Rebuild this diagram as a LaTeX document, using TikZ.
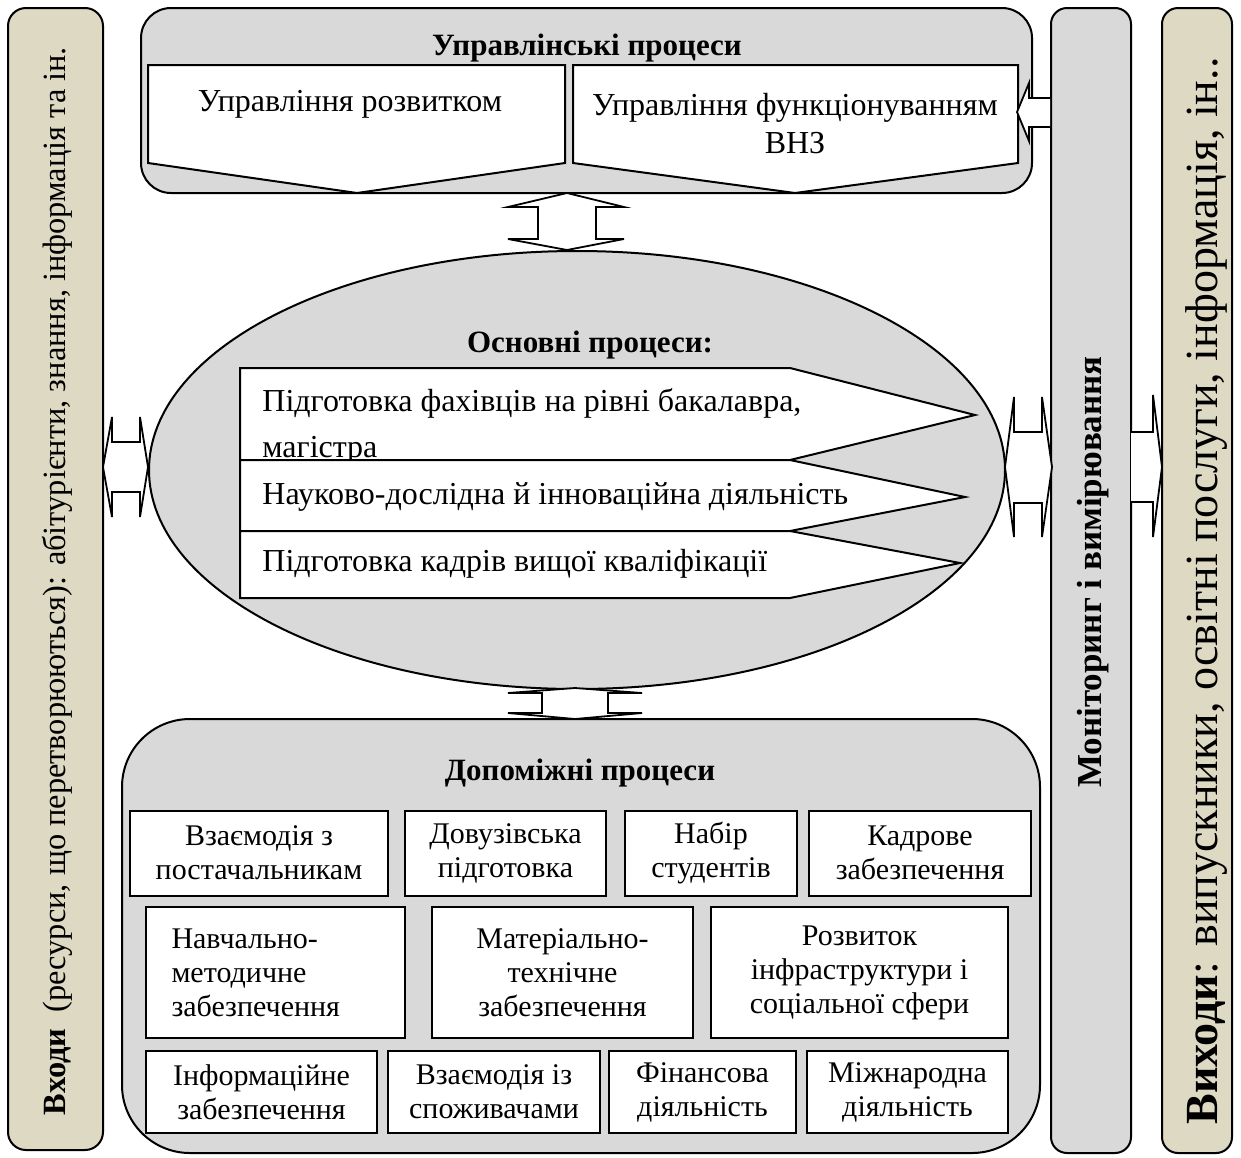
\documentclass[tikz,border=0pt]{standalone}
\usepackage{fontspec}
\setmainfont{Liberation Serif}
\definecolor{panelgray}{HTML}{D9D9D9}
\definecolor{panelbeige}{HTML}{DDD9C3}
\begin{document}
\begin{tikzpicture}[x=0.5pt,y=-0.5pt,
  outl/.style={draw=black,line width=1pt},
  hollow/.style={draw=black,line width=0.9pt,fill=white,line join=miter},
  headfont/.style={font=\fontsize{15.5}{18}\selectfont\bfseries},
  bodyfont/.style={font=\fontsize{16}{19}\selectfont},
  linetext/.style={bodyfont,anchor=base west,inner sep=0pt},
  subbox/.style={draw=black,line width=1pt,fill=white,inner sep=0pt,align=center,
    font=\fontsize{15}{17}\selectfont},
]
\fill[white] (0,0) rectangle (1241,1157);
\useasboundingbox (0,0) rectangle (1241,1157);

% ---- side panels ----
\draw[outl,fill=panelbeige,rounded corners=9pt] (8,8) rectangle (103,1150);
\node[rotate=90,font=\fontsize{16.2}{18}\selectfont] (inputs) at (57,581)
  {\textbf{Входи}\ \ (ресурси, що перетворюються): абітурієнти, знання, інформація та ін.};

\draw[outl,fill=panelgray,rounded corners=8pt] (1051,8) rectangle (1131,1153);
\node[rotate=90,font=\fontsize{17.5}{20}\selectfont\bfseries] (monitor) at (1093,572) {Моніторинг і вимірювання};

\draw[outl,fill=panelbeige,rounded corners=8pt] (1162,8) rectangle (1232,1153);
\node[rotate=90,font=\fontsize{23}{26}\selectfont] (outputs) at (1206,591)
  {\textbf{Виходи}: випускники, освітні послуги, інформація, ін..};

% ---- management processes ----
\draw[outl,fill=panelgray,rounded corners=15pt] (141,8) rectangle (1032,193);
\node[headfont] (mgmt) at (587,48) {Управлінські процеси};
\draw[outl,fill=white] (148,65) -- (565,65) -- (565,163) -- (357,193) -- (148,163) -- cycle;
\node[bodyfont] (devel) at (350,104) {Управління розвитком};
\draw[outl,fill=white] (573,65) -- (1018,65) -- (1018,163) -- (795,193) -- (573,163) -- cycle;
\node[bodyfont,align=center] (oper) at (795,124) {Управління функціонуванням\\ВНЗ};

% feedback from monitoring into management
\draw[hollow] (1050,98) -- (1029,98) -- (1029,83) -- (1017,112) -- (1029,141) -- (1029,127) -- (1050,127);

% ---- core processes ----
\draw[outl,fill=panelgray] (577,470) ellipse [x radius=214pt, y radius=109.5pt];
\node[headfont] (core) at (590,345) {Основні процеси:};

\draw[outl,fill=white] (240,368) -- (790,368) -- (975,415) -- (790,460) -- (240,460) -- cycle;
\node[linetext] (c1a) at (262,411) {Підготовка фахівців на рівні бакалавра,};
\node[linetext] (c1b) at (262,457) {магістра};
\draw[outl,fill=white] (240,460) -- (790,460) -- (965,497) -- (790,531) -- (240,531) -- cycle;
\node[linetext] (c2) at (262,504) {Науково-дослідна й інноваційна діяльність};
\draw[outl,fill=white] (240,531) -- (790,531) -- (960,563) -- (790,598) -- (240,598) -- cycle;
\node[linetext] (c3) at (262,571) {Підготовка кадрів вищої кваліфікації};

% ---- two-way links ----
\draw[hollow] (567,193) -- (624,207) -- (596,207) -- (596,239) -- (624,239) -- (567,250)
  -- (508,239) -- (538,239) -- (538,207) -- (508,207) -- cycle;
\draw[hollow] (575,688) -- (642,693) -- (608,693) -- (608,713) -- (642,713) -- (575,719)
  -- (508,713) -- (542,713) -- (542,693) -- (508,693) -- cycle;
\draw[hollow] (103,467) -- (112,417) -- (112,442) -- (140,442) -- (140,417) -- (148,467)
  -- (140,517) -- (140,492) -- (112,492) -- (112,517) -- cycle;
\draw[hollow] (1005,467) -- (1014,397) -- (1014,432) -- (1042,432) -- (1042,397) -- (1052,467)
  -- (1042,537) -- (1042,503) -- (1014,503) -- (1014,537) -- cycle;
% output
\draw[hollow] (1131,432) -- (1153,432) -- (1153,395) -- (1162,467) -- (1153,537) -- (1153,502) -- (1131,502);

% ---- supporting processes ----
\draw[outl,fill=panelgray,rounded corners=34pt] (122,719) rectangle (1040,1153);
\node[headfont] (support) at (580,773) {Допоміжні процеси};

\node[subbox,minimum width=129pt,minimum height=42.5pt] (b1) at (259,853) {Взаємодія з\\постачальникам};
\node[subbox,minimum width=100.5pt,minimum height=42.5pt] (b2) at (505.5,853) {Довузівська\\підготовка};
\node[subbox,minimum width=86pt,minimum height=42.5pt] (b3) at (711,853) {Набір\\студентів};
\node[subbox,minimum width=111pt,minimum height=42.5pt] (b4) at (920,853) {Кадрове\\забезпечення};

\node[subbox,minimum width=129.5pt,minimum height=65.5pt,align=left,text width=104pt,inner xsep=12.75pt] (b5) at (275.5,972.5) {Навчально-\\методичне\\забезпечення};
\node[subbox,minimum width=130.5pt,minimum height=65.5pt] (b6) at (562.5,972.5) {Матеріально-\\технічне\\забезпечення};
\node[subbox,minimum width=148.5pt,minimum height=65.5pt] (b7) at (859.5,972.5) {Розвиток\\інфраструктури і\\соціальної сфери};

\node[subbox,minimum width=115.5pt,minimum height=41pt] (b8) at (261.5,1092) {Інформаційне\\забезпечення};
\node[subbox,minimum width=106pt,minimum height=41pt] (b9) at (494,1092) {Взаємодія із\\споживачами};
\node[subbox,minimum width=93.5pt,minimum height=41pt] (b10) at (702.5,1092) {Фінансова\\діяльність};
\node[subbox,minimum width=100.5pt,minimum height=41pt] (b11) at (907.5,1092) {Міжнародна\\діяльність};
\end{tikzpicture}
\end{document}
